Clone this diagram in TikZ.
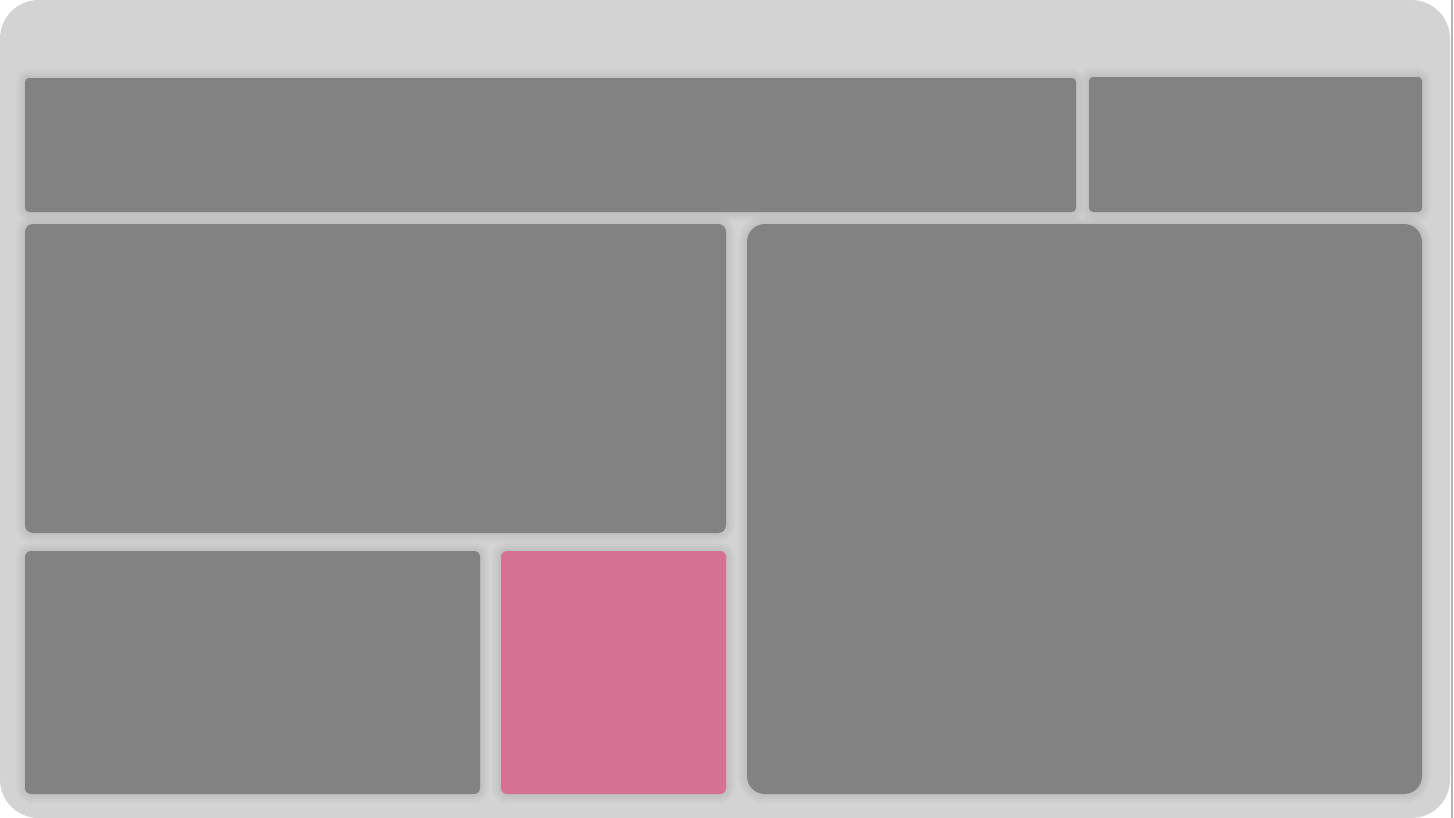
\documentclass[tikz,border=0pt]{standalone}
\usepackage{xcolor}
\usepackage{tikz}
\definecolor{FrameGray}{HTML}{D3D3D3}
\definecolor{PanelGray}{HTML}{828282}
\definecolor{RosePink}{HTML}{D57193}
\definecolor{EdgeGray}{HTML}{B4B4B4}

% panel with a soft halo: x1, y1, x2, y2, corner radius (px), colour
\newcommand{\drawpanel}[6]{%
  \foreach \s in {9,7,5,3,1}{
    \fill[black, opacity=0.014, rounded corners={(#5+\s)*0.567pt}]
      (#1-\s,#2-\s) rectangle (#3+\s,#4+\s);
  }
  \fill[#6, rounded corners={#5*0.567pt}] (#1,#2) rectangle (#3,#4);
}

\begin{document}
\begin{tikzpicture}[x=0.02cm, y=-0.02cm]
  \useasboundingbox (0,0) rectangle (1454,818);
  % Frame
  \fill[white] (0,0) rectangle (1454,818);
  \fill[FrameGray, rounded corners=22pt] (0,0) rectangle (1450,818);
  \draw[EdgeGray, line width=0.6pt] (1452,0) -- (1452,818);
  % Top bar
  \drawpanel{25}{78}{1076}{212}{4}{PanelGray}
  \drawpanel{1089}{77}{1422}{212}{4}{PanelGray}
  % Left column
  \drawpanel{25}{224}{726}{533}{8}{PanelGray}
  \drawpanel{25}{551}{480}{794}{6}{PanelGray}
  \drawpanel{501}{551}{726}{794}{6}{RosePink}
  % Right panel
  \drawpanel{747}{224}{1422}{794}{18}{PanelGray}
\end{tikzpicture}
\end{document}
